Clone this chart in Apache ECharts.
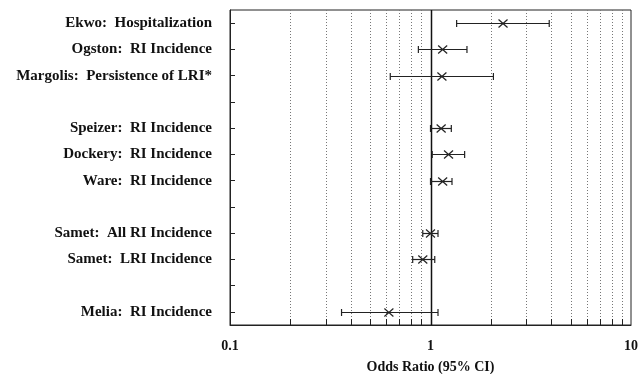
<!DOCTYPE html>
<html>
<head>
<meta charset="utf-8">
<script src="https://cdn.jsdelivr.net/npm/echarts@6/dist/echarts.min.js"></script>
<style>
  html, body { margin: 0; padding: 0; background: #fff; }
  #chart { width: 639px; height: 374px; }
</style>
</head>
<body>
<div id="chart"></div>
<script>
// Study rows, top to bottom; empty strings are spacer rows between groups.
const studies = [
  'Ekwo:  Hospitalization',
  'Ogston:  RI Incidence',
  'Margolis:  Persistence of LRI*',
  '',
  'Speizer:  RI Incidence',
  'Dockery:  RI Incidence',
  'Ware:  RI Incidence',
  '',
  'Samet:  All RI Incidence',
  'Samet:  LRI Incidence',
  '',
  'Melia:  RI Incidence'
];
const oddsRatio = [2.30, 1.15, 1.14, null, 1.13, 1.23, 1.15, null, 1.00, 0.915, null, 0.62];
const ciLow     = [1.35, 0.87, 0.63, null, 1.00, 1.02, 1.00, null, 0.915, 0.815, null, 0.36];
const ciHigh    = [3.91, 1.52, 2.06, null, 1.27, 1.48, 1.28, null, 1.09, 1.05, null, 1.09];

// Log-scale reference positions: dotted grid at 2..9 of each decade, solid line at 1.
const minorGrid = [0.2, 0.3, 0.4, 0.5, 0.6, 0.7, 0.8, 0.9, 2, 3, 4, 5, 6, 7, 8, 9];
const refValue = [1];
const xTickLabels = [0.1, 1, 10];

const ink = '#222';
const font = 'Liberation Serif';

const barData = [];
studies.forEach((s, i) => {
  if (oddsRatio[i] != null) barData.push([i, ciLow[i], oddsRatio[i], ciHigh[i]]);
});

const chart = echarts.init(document.getElementById('chart'), null, { renderer: 'canvas' });

chart.setOption({
  animation: false,
  backgroundColor: '#fff',
  grid: {
    left: 230, right: 8, top: 10, bottom: 49,
    containLabel: false,
    outerBoundsMode: 'none',
    show: true, borderColor: ink, borderWidth: 1, backgroundColor: 'transparent'
  },
  xAxis: {
    type: 'log',
    logBase: 10,
    min: 0.1,
    max: 10,
    axisLine: { show: true, lineStyle: { color: ink, width: 1 } },
    axisTick: { show: false },
    splitLine: { show: false },
    axisLabel: {
      margin: 14,
      color: '#111',
      fontFamily: font,
      fontWeight: 'bold',
      fontSize: 14,
      formatter: v => (xTickLabels.some(t => Math.abs(t - v) < 1e-9) ? String(v) : '')
    },
    name: 'Odds Ratio (95% CI)',
    nameLocation: 'middle',
    nameGap: 35,
    nameTextStyle: { color: '#111', fontFamily: font, fontWeight: 'bold', fontSize: 14 }
  },
  yAxis: {
    type: 'category',
    inverse: true,
    data: studies,
    axisLine: { show: true, lineStyle: { color: ink, width: 1 } },
    axisTick: { show: true, inside: true, length: 5, alignWithLabel: true, lineStyle: { color: ink } },
    splitLine: { show: false },
    axisLabel: {
      margin: 18,
      color: '#111',
      fontFamily: font,
      fontWeight: 'bold',
      fontSize: 15,
      interval: 0
    }
  },
  series: [
    {
      // Dotted decade gridlines with short inward ticks at the bottom edge
      type: 'custom',
      silent: true,
      z: 1,
      data: minorGrid.map(v => [v]),
      renderItem: (params, api) => {
        const cs = params.coordSys;
        const x = Math.round(api.coord([api.value(0), 0])[0]) + 0.5;
        return {
          type: 'group',
          children: [
            {
              type: 'line',
              shape: { x1: x, y1: cs.y, x2: x, y2: cs.y + cs.height },
              style: { stroke: '#777', lineWidth: 1, lineDash: [1, 2] }
            },
            {
              type: 'line',
              shape: { x1: x, y1: cs.y + cs.height, x2: x, y2: cs.y + cs.height - 6 },
              style: { stroke: ink, lineWidth: 1 }
            }
          ]
        };
      }
    },
    {
      // Solid reference line at odds ratio 1
      type: 'custom',
      silent: true,
      z: 2,
      data: refValue.map(v => [v]),
      renderItem: (params, api) => {
        const cs = params.coordSys;
        const x = Math.round(api.coord([api.value(0), 0])[0]) + 0.5;
        return {
          type: 'line',
          shape: { x1: x, y1: cs.y, x2: x, y2: cs.y + cs.height },
          style: { stroke: '#111', lineWidth: 1.5 }
        };
      }
    },
    {
      // Confidence intervals with end caps and an X at the point estimate
      type: 'custom',
      z: 3,
      data: barData,
      encode: { x: [1, 2, 3], y: 0 },
      renderItem: (params, api) => {
        const row = api.value(0);
        const lo = api.coord([api.value(1), row]);
        const mid = api.coord([api.value(2), row]);
        const hi = api.coord([api.value(3), row]);
        const y = Math.round(lo[1]) + 0.5;
        const cap = 3.5;
        const m = 4.5;
        const stroke = { stroke: '#222', lineWidth: 1.2 };
        return {
          type: 'group',
          children: [
            { type: 'line', shape: { x1: lo[0], y1: y, x2: hi[0], y2: y }, style: stroke },
            { type: 'line', shape: { x1: lo[0], y1: y - cap, x2: lo[0], y2: y + cap }, style: stroke },
            { type: 'line', shape: { x1: hi[0], y1: y - cap, x2: hi[0], y2: y + cap }, style: stroke },
            { type: 'line', shape: { x1: mid[0] - m, y1: y - m + 0.5, x2: mid[0] + m, y2: y + m - 0.5 }, style: stroke },
            { type: 'line', shape: { x1: mid[0] - m, y1: y + m - 0.5, x2: mid[0] + m, y2: y - m + 0.5 }, style: stroke }
          ]
        };
      }
    }
  ]
});
</script>
</body>
</html>
